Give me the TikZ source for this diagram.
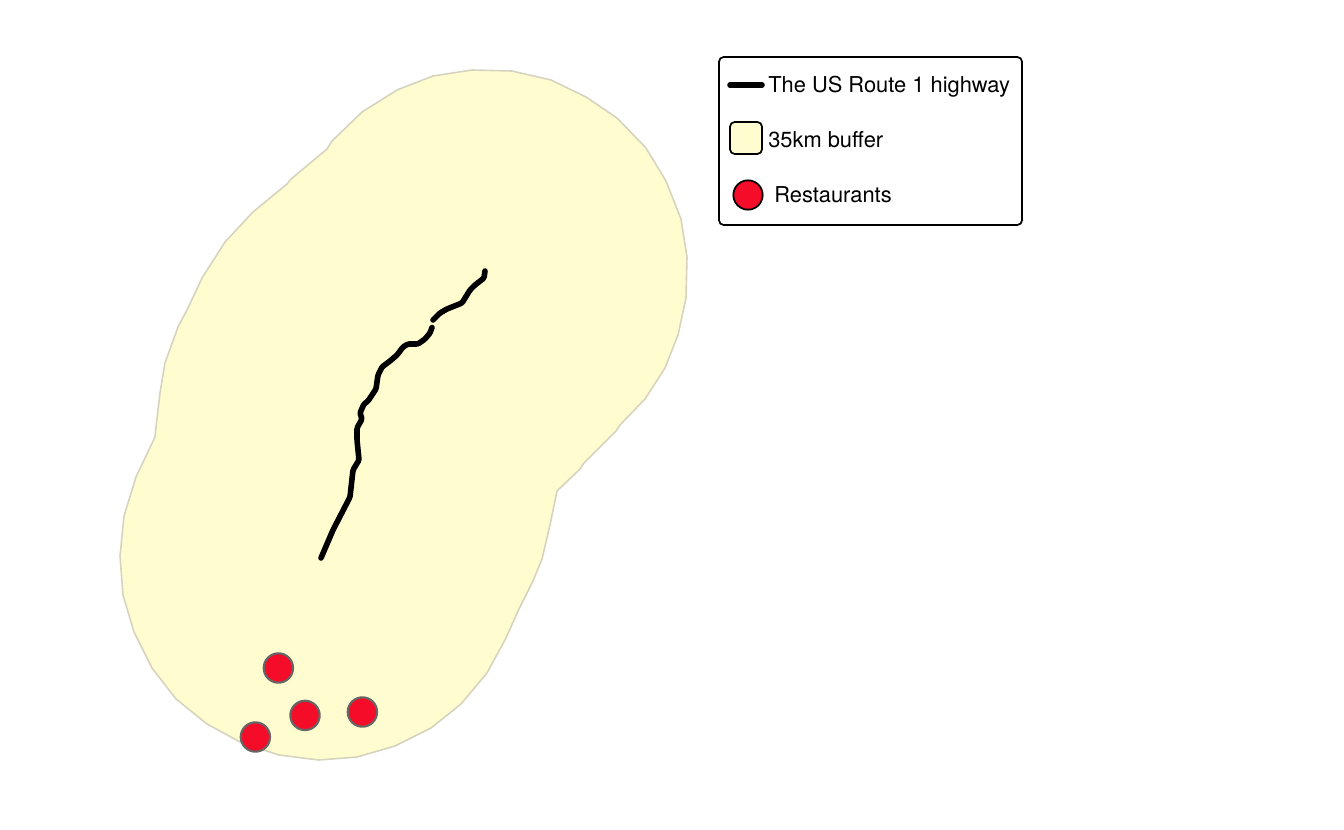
\documentclass[tikz,border=0pt]{standalone}
\usepackage{fontspec}
\setmainfont{TeX Gyre Heros}
\usepackage{xcolor}
\usepackage{tikz}
\usetikzlibrary{positioning}
\definecolor{bufferfill}{HTML}{FFFDD0}
\definecolor{bufferline}{HTML}{D6D4BE}
\definecolor{diner}{HTML}{F40C28}
\begin{document}
\begin{tikzpicture}[
    x=0.75pt, y=-0.75pt,
    buffer/.style={draw=bufferline, fill=bufferfill, line width=1.2pt, line join=round},
    highway/.style={draw=black, line width=4.2pt, line cap=round, line join=round, rounded corners=1pt},
    restaurant/.style={circle, draw=black!60, fill=diner, line width=1.6pt, minimum size=22pt, inner sep=0pt},
    legendbox/.style={draw=black, rounded corners=3.5pt, line width=1.3pt, fill=white},
    legendtext/.style={font=\fontsize{16.4}{20}\selectfont, anchor=base west, inner sep=0pt}
]
    \useasboundingbox (0,0) rectangle (1344,830);
    % Buffer
    \path[buffer] (472,70) -- (512,71) -- (551,80) -- (586,97) -- (617,118) -- (646,148) -- (666,181) -- (681,219) -- (687,257) -- (686,298) -- (678,335) -- (665,368) -- (645,399) -- (620,425) -- (616,431) -- (584,463) -- (580,469) -- (557,491) -- (550,525) -- (542,559) -- (533,581) -- (518,611) -- (506,638) -- (487,673) -- (461,704) -- (431,728) -- (395,746) -- (357,757) -- (319,760) -- (279,755) -- (242,743) -- (207,724) -- (176,699) -- (152,668) -- (134,632) -- (123,595) -- (120,556) -- (124,516) -- (136,477) -- (155,437) -- (156,427) -- (160,393) -- (165,363) -- (178,327) -- (188,308) -- (202,278) -- (225,242) -- (253,212) -- (287,184) -- (291,179) -- (327,149) -- (332,141) -- (362,112) -- (397,90) -- (433,76) -- cycle;
    % Highway
    \draw[highway] (321,558) -- (333,530) -- (350,497) -- (353,470) -- (359,460) -- (357,440) -- (357,428) -- (362,419) -- (360,413) -- (364,404) -- (368,401) -- (376,389) -- (378,375) -- (382,367) -- (390,361) -- (397,355) -- (403,347) -- (408,344) -- (418,344) -- (425,339) -- (430,333) -- (432,327.5);
    \draw[highway] (433,320) -- (440,313) -- (447,309) -- (462,303) -- (470,290) -- (475,285) -- (484,278) -- (485,271);
    % Restaurants
    \node[restaurant] (rest1) at (278.4,668) {};
    \node[restaurant] (rest2) at (305,715.4) {};
    \node[restaurant] (rest3) at (362.4,712) {};
    \node[restaurant] (rest4) at (255.4,737) {};
    % Legend
    \draw[legendbox] (719,57) rectangle (1022,225);
    \coordinate (linestart) at (730,85);
    \coordinate (lineend) at (762,85);
    \draw[highway] (linestart) -- (lineend);
    \node[legendtext] (linelabel) at (768,93) {The US Route 1 highway};
    \node[draw=black, fill=bufferfill, rounded corners=3.5pt, line width=1.3pt, minimum size=24pt, inner sep=0pt] (bufferkey) at (746,138) {};
    \node[legendtext] (bufferlabel) at (768,148) {35km buffer};
    \node[circle, draw=black, fill=diner, line width=1.3pt, minimum size=22pt, inner sep=0pt] (restkey) at (748,195) {};
    \node[legendtext] (restlabel) at (774,203) {Restaurants};
\end{tikzpicture}
\end{document}
